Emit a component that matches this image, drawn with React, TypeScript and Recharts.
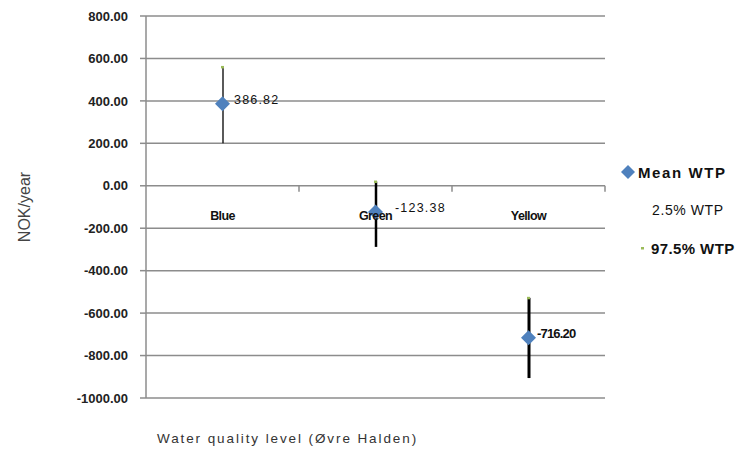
import React from 'react';
import { ComposedChart, Bar, Scatter, XAxis, YAxis, CartesianGrid, LabelList, Label } from 'recharts';

const categories = ['Blue', 'Green', 'Yellow'];
const meanWtp = [386.82, -123.38, -716.2];
const lowWtp = [200, -288, -906];
const highWtp = [560, 20, -528];
const yTicks = [800, 600, 400, 200, 0, -200, -400, -600, -800, -1000];

const W = 743;
const H = 454;
const TOP = 16;
const PLOT_H = 382;
const LEFT = 146;
const PLOT_W = 459;
const ZERO_Y = TOP + (PLOT_H * 800) / 1800;

const rangeWidths = [1.3, 2.5, 3];
const labelGaps = [16, 24, 13];

const chartData = categories.map((name, i) => ({
  name,
  mean: meanWtp[i],
  high: highWtp[i],
  range: [lowWtp[i], highWtp[i]],
}));

const Diamond = (props: any) => {
  const { cx, cy } = props;
  if (cx == null || cy == null) return null;
  const r = 7.5;
  return <path d={`M${cx},${cy - r}L${cx + r},${cy}L${cx},${cy + r}L${cx - r},${cy}Z`} fill="#4F81BD" />;
};

const HighMark = (props: any) => {
  const { cx, cy } = props;
  if (cx == null || cy == null) return null;
  return <rect x={cx - 1.5} y={cy - 1} width={3} height={2.5} fill="#9BBB59" />;
};

const RangeLine = (props: any) => {
  const { x, y, width, height, index } = props;
  const cx = x + width / 2;
  return <line x1={cx} x2={cx} y1={y} y2={y + height} stroke="#000" strokeWidth={rangeWidths[index] || 1.5} />;
};

const CategoryTick = (props: any) => {
  const { x, y, payload } = props;
  const band = PLOT_W / categories.length;
  const shift = y - ZERO_Y;
  return (
    <g>
      <text x={x} y={y - shift + 34} textAnchor="middle" fontSize={12.5} fontWeight={700} fill="#111" fontFamily="Liberation Sans, Arial, sans-serif" letterSpacing={-0.6}>
        {payload.value}
      </text>
      <line x1={x + band / 2} x2={x + band / 2} y1={ZERO_Y} y2={ZERO_Y + 6} stroke="#8c8c8c" strokeWidth={1.5} />
    </g>
  );
};

const MeanLabel = (props: any) => {
  const { x, y, value, index } = props;
  const bold = index === 2;
  return (
    <text x={x + (labelGaps[index] ?? 14)} y={y + 5} fontSize={bold ? 13 : 12.5} fontWeight={bold ? 700 : 400} fill="#111"
      fontFamily="Liberation Sans, Arial, sans-serif" letterSpacing={bold ? -0.8 : 1.2}>
      {Number(value).toFixed(2)}
    </text>
  );
};

const LegendBox = () => (
  <div style={{ position: 'absolute', left: 620, top: 162, fontFamily: 'Liberation Sans, Arial, sans-serif', fontSize: 15, color: '#111' }}>
    <div style={{ display: 'flex', alignItems: 'center', height: 20 }}>
      <svg width={16} height={16} style={{ marginRight: 2 }}>
        <path d="M8,1L15,8L8,15L1,8Z" fill="#4F81BD" />
      </svg>
      <span style={{ fontWeight: 700, letterSpacing: 1.6 }}>Mean WTP</span>
    </div>
    <div style={{ display: 'flex', alignItems: 'center', height: 20, marginTop: 18, paddingLeft: 32 }}>
      <span style={{ fontSize: 14, letterSpacing: 0.6 }}>2.5% WTP</span>
    </div>
    <div style={{ display: 'flex', alignItems: 'center', height: 20, marginTop: 18, paddingLeft: 20 }}>
      <svg width={8} height={16} style={{ marginRight: 3 }}>
        <rect x={1} y={7} width={3} height={2.5} fill="#9BBB59" />
      </svg>
      <span style={{ fontWeight: 700, letterSpacing: 0.4 }}>97.5% WTP</span>
    </div>
  </div>
);

export default function App() {
  return (
    <div style={{ position: 'relative', width: W, height: H, background: '#fff' }}>
      <style>{`body{margin:0}`}</style>
      <ComposedChart
        width={W}
        height={H}
        data={chartData}
        margin={{ top: TOP, right: W - LEFT - PLOT_W, bottom: 0, left: 0 }}
      >
        <CartesianGrid vertical={false} stroke="#8c8c8c" strokeWidth={1.5} />
        <XAxis
          dataKey="name"
          height={H - TOP - PLOT_H}
          axisLine={false}
          tickLine={false}
          tickSize={0}
          tickMargin={0}
          tick={<CategoryTick />}
          interval={0}
        >
          <Label
            value="Water quality level (Øvre Halden)"
            position="insideBottomLeft"
            offset={11}
            fontSize={13.5}
            fill="#333"
            letterSpacing={1.9}
            fontFamily="Liberation Sans, Arial, sans-serif"
          />
        </XAxis>
        <YAxis
          width={LEFT}
          domain={[-1000, 800]}
          ticks={yTicks}
          interval={0}
          tickFormatter={(v: number) => v.toFixed(2)}
          axisLine={{ stroke: '#8c8c8c', strokeWidth: 1.5 }}
          tickLine={{ stroke: '#8c8c8c', strokeWidth: 1.5 }}
          tickSize={6}
          tickMargin={12}
          tick={{ fontSize: 13, fill: '#222', fontWeight: 600, fontFamily: 'Liberation Sans, Arial, sans-serif' }}
        >
          <Label
            value="NOK/year"
            angle={-90}
            position="insideLeft"
            offset={24}
            fontSize={16}
            fill="#444"
            fontFamily="Liberation Sans, Arial, sans-serif"
            style={{ textAnchor: 'middle' }}
          />
        </YAxis>
        <Bar dataKey="range" barSize={10} shape={<RangeLine />} isAnimationActive={false} />
        <Scatter dataKey="high" shape={<HighMark />} isAnimationActive={false} />
        <Scatter dataKey="mean" shape={<Diamond />} isAnimationActive={false}>
          <LabelList dataKey="mean" content={<MeanLabel />} />
        </Scatter>
      </ComposedChart>
      <LegendBox />
    </div>
  );
}
